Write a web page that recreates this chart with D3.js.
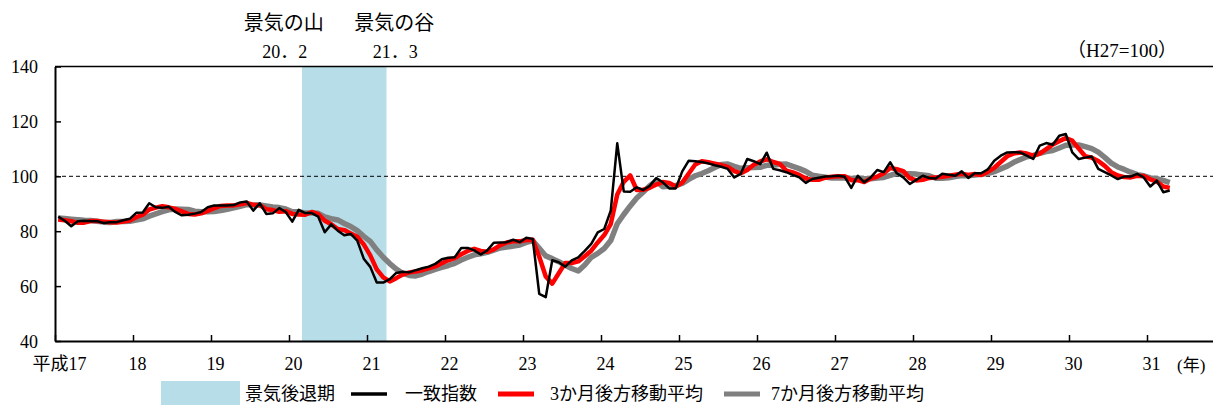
<!DOCTYPE html>
<html>
<head>
<meta charset="utf-8">
<script src="https://cdn.jsdelivr.net/npm/d3@7"></script>
<style>
  body { margin: 0; background: #fff; }
  svg { display: block; overflow: hidden; }
  text { font-family: "Liberation Serif", "Noto Sans CJK JP", serif; fill: #000; }
</style>
</head>
<body>
<div id="chart"></div>
<script>
// monthly values, 平成17年1月 .. 平成31年4月
var ci = [
  85.3, 83.8, 81.8, 83.6, 83.8, 83.6, 83.6, 83.0, 83.3, 83.3, 84.0, 84.5,
  86.7, 86.8, 90.2, 88.7, 88.5, 88.9, 87.0, 85.8, 86.0, 86.4, 87.0, 88.7,
  89.4, 89.4, 89.4, 89.5, 90.5, 90.8, 87.5, 90.2, 86.3, 86.5, 88.4, 87.0,
  83.5, 87.8, 86.6, 86.6, 85.3, 79.6, 82.5, 80.2, 78.5, 79.0, 76.6, 70.0,
  67.0, 61.3, 61.3, 62.5, 64.8, 65.2, 65.0, 65.8, 66.5, 67.1, 68.1, 69.8,
  70.3, 70.5, 73.9, 73.9, 73.0, 71.5, 73.0, 75.8, 75.9, 76.0, 76.9, 76.0,
  77.6, 77.2, 57.2, 56.0, 69.4, 68.7, 67.1, 69.4, 70.5, 72.8, 75.4, 79.6,
  80.8, 87.5, 112.0, 94.5, 94.4, 96.0, 95.0, 96.5, 99.4, 97.8, 95.6, 95.6,
  101.8, 105.7, 105.5, 105.2, 104.7, 104.0, 103.5, 102.7, 99.6, 100.9, 106.3, 105.5,
  104.4, 108.6, 102.7, 102.2, 101.5, 100.5, 99.6, 97.6, 99.0, 99.5, 99.9, 100.0,
  100.2, 99.8, 95.8, 100.2, 97.8, 99.6, 102.3, 101.5, 105.1, 101.1, 99.6, 97.2,
  98.7, 100.2, 99.4, 99.2, 100.9, 100.6, 100.2, 101.8, 99.4, 101.1, 101.1, 102.5,
  105.7, 107.5, 108.7, 108.8, 108.7, 107.5, 106.3, 111.2, 112.1, 111.5, 114.8, 115.4,
  108.7, 106.3, 106.8, 107.2, 102.7, 101.5, 100.3, 99.0, 99.9, 99.9, 100.9, 99.6,
  96.3, 98.4, 94.2, 94.8
];

var ma3 = [
  84.3, 84.0, 83.6, 83.1, 83.1, 83.7, 83.7, 83.4, 83.3, 83.2, 83.5, 83.9,
  85.1, 86.0, 87.9, 88.6, 89.1, 88.7, 88.1, 87.2, 86.3, 86.1, 86.5, 87.4,
  88.4, 89.2, 89.4, 89.4, 89.8, 90.3, 89.6, 89.5, 88.0, 87.7, 87.1, 87.3,
  86.3, 86.1, 86.0, 87.0, 86.2, 83.8, 82.5, 80.8, 80.4, 79.2, 78.0, 75.2,
  71.2, 66.1, 63.2, 61.7, 62.9, 64.2, 65.0, 65.3, 65.8, 66.5, 67.2, 68.3,
  69.4, 70.2, 71.6, 72.8, 73.6, 72.8, 72.5, 73.4, 74.9, 75.9, 76.3, 76.3,
  76.8, 76.9, 70.7, 63.5, 60.9, 64.7, 68.4, 68.4, 69.0, 70.9, 72.9, 75.9,
  78.6, 82.6, 93.4, 98.0, 100.3, 95.0, 95.1, 95.8, 97.0, 97.9, 97.6, 96.3,
  97.7, 101.0, 104.3, 105.5, 105.1, 104.6, 104.1, 103.4, 101.9, 101.1, 102.3, 104.2,
  105.4, 106.2, 105.2, 104.5, 102.1, 101.4, 100.5, 99.2, 98.7, 98.7, 99.5, 99.8,
  100.0, 100.0, 98.6, 98.6, 97.9, 99.2, 99.9, 101.1, 103.0, 102.6, 101.9, 99.3,
  98.5, 98.7, 99.4, 99.6, 99.8, 100.2, 100.6, 100.9, 100.5, 100.8, 100.5, 101.6,
  103.1, 105.2, 107.3, 108.3, 108.7, 108.3, 107.5, 108.3, 109.9, 111.6, 112.8, 113.9,
  113.0, 110.1, 107.3, 106.8, 105.6, 103.8, 101.5, 100.3, 99.7, 99.6, 100.2, 100.1,
  98.9, 98.1, 96.3, 95.8
];

var ma7 = [
  84.8, 84.6, 84.4, 84.2, 84.0, 83.9, 83.6, 83.3, 83.2, 83.5, 83.5, 83.6,
  84.1, 84.5, 85.5, 86.3, 87.1, 87.8, 88.1, 88.0, 87.9, 87.3, 87.1, 87.1,
  87.2, 87.5, 88.0, 88.5, 89.1, 89.7, 89.5, 89.6, 89.2, 88.8, 88.6, 88.1,
  87.1, 87.1, 86.6, 86.6, 86.5, 85.2, 84.6, 84.1, 82.8, 81.7, 80.2, 78.1,
  76.3, 73.2, 70.5, 68.2, 66.2, 64.6, 63.9, 63.7, 64.4, 65.3, 66.1, 66.8,
  67.5, 68.3, 69.5, 70.5, 71.4, 71.8, 72.3, 73.1, 73.9, 74.2, 74.6, 75.0,
  75.9, 76.5, 73.8, 71.0, 70.0, 68.9, 67.6, 66.4, 65.5, 67.7, 70.5, 71.9,
  73.7, 76.6, 82.7, 86.1, 89.2, 92.1, 94.3, 96.6, 98.3, 96.2, 96.4, 96.6,
  97.4, 98.9, 100.2, 101.0, 102.0, 103.2, 104.3, 104.5, 103.6, 102.9, 103.1, 103.2,
  103.3, 104.0, 104.0, 104.4, 104.5, 103.6, 102.8, 101.8, 100.4, 100.0, 99.7, 99.4,
  99.4, 99.4, 99.2, 99.3, 99.1, 99.1, 99.4, 99.6, 100.3, 101.1, 101.0, 100.9,
  100.8, 100.5, 100.2, 99.3, 99.3, 99.5, 99.9, 100.3, 100.2, 100.5, 100.7, 101.0,
  101.7, 102.7, 103.7, 105.1, 106.1, 107.1, 107.6, 108.4, 109.0, 109.4, 110.3, 111.3,
  111.4, 111.4, 110.8, 110.1, 108.8, 106.9, 104.8, 103.4, 102.5, 101.5, 100.6, 100.2,
  99.4, 99.1, 98.5, 97.7
];

var yearLabels = ["平成17", "18", "19", "20", "21", "22", "23", "24", "25",
                  "26", "27", "28", "29", "30", "31"];
var yTicks = [40, 60, 80, 100, 120, 140];

// 景気後退期 (month after the peak .. trough), month index from 平成17年1月
var recessionMonths = [38, 50];
var peakLabel = ["景気の山", "20．2"];
var troughLabel = ["景気の谷", "21．3"];

var width = 1213, height = 405;
var plotLeft = 55, plotTop = 66.5, plotBottom = 341;

var svg = d3.select("#chart")
            .append("svg")
            .attr("width", width)
            .attr("height", height);

// month bands run to the end of 平成31 (the right edge falls outside the picture)
var nMonths = yearLabels.length * 12;
var plotRight = plotLeft + nMonths * 6.5;
var x = d3.scaleBand().domain(d3.range(nMonths)).range([plotLeft, plotRight]).padding(0);
var xYear = d3.scaleLinear().domain([0, yearLabels.length]).range([plotLeft, plotRight]);
var y = d3.scaleLinear().domain([40, 140]).range([plotBottom, plotTop]);
var cx = function(i) { return x(i) + x.bandwidth() / 2; };

// recession shading
svg.append("rect")
   .attr("x", x(recessionMonths[0]))
   .attr("y", y(140))
   .attr("width", x(recessionMonths[1]) + x.bandwidth() - x(recessionMonths[0]))
   .attr("height", y(40) - y(140))
   .attr("fill", "#b7dde8");

// 100 reference line
svg.append("line")
   .attr("x1", plotLeft).attr("x2", width)
   .attr("y1", y(100)).attr("y2", y(100))
   .attr("stroke", "#000").attr("stroke-width", 1)
   .attr("stroke-dasharray", "4,3");

// top frame line
svg.append("line")
   .attr("x1", plotLeft).attr("x2", width)
   .attr("y1", y(140)).attr("y2", y(140))
   .attr("stroke", "#000").attr("stroke-width", 1.5);

// y axis
var yAxis = svg.append("g")
   .attr("transform", "translate(" + plotLeft + ",0)")
   .call(d3.axisLeft(y).tickValues(yTicks).tickSizeInner(-6).tickSizeOuter(0).tickPadding(17));
yAxis.select(".domain").attr("stroke-width", 2);
yAxis.selectAll(".tick line").attr("stroke-width", 1.5);
yAxis.selectAll("text").style("font-size", "18px").attr("dy", "0.35em");

// x axis
var xAxis = svg.append("g")
   .attr("transform", "translate(0," + plotBottom + ")")
   .call(d3.axisBottom(xYear)
           .tickValues(d3.range(yearLabels.length + 1))
           .tickFormat(function(d) { return yearLabels[d] || ""; })
           .tickSizeInner(-6).tickSizeOuter(0).tickPadding(16));
xAxis.select(".domain").attr("stroke-width", 2);
xAxis.selectAll(".tick line").attr("stroke-width", 1.5);
xAxis.selectAll("text").style("font-size", "18px").attr("dx", 4);

svg.append("text")
   .attr("x", 1177).attr("y", 371)
   .style("font-size", "17px")
   .text("(年)");

svg.append("text")
   .attr("x", 1122).attr("y", 57)
   .attr("text-anchor", "middle")
   .style("font-size", "19px")
   .text("（H27=100）");

// peak / trough labels
[[peakLabel, cx(recessionMonths[0] - 1) - 15], [troughLabel, cx(recessionMonths[1]) + 11]].forEach(function(d) {
  svg.append("text").attr("x", d[1]).attr("y", 30)
     .attr("text-anchor", "middle").style("font-size", "20px").text(d[0][0]);
  svg.append("text").attr("x", d[1] + 1).attr("y", 58)
     .attr("text-anchor", "middle").style("font-size", "18px").text(d[0][1]);
});

// lines
var line = d3.line()
             .x(function(d, i) { return cx(i); })
             .y(function(d) { return y(d); });

var series = [
  {values: ma7, color: "#808080", w: 5.5},
  {values: ma3, color: "#ff0000", w: 4.5},
  {values: ci, color: "#000000", w: 2.5}
];

svg.selectAll(".series")
   .data(series)
   .enter()
   .append("path")
   .attr("class", "series")
   .attr("d", function(d) { return line(d.values); })
   .attr("fill", "none")
   .attr("stroke", function(d) { return d.color; })
   .attr("stroke-width", function(d) { return d.w; })
   .attr("stroke-linejoin", "round");

// legend
var legend = svg.append("g");
legend.append("rect")
      .attr("x", 161).attr("y", 381).attr("width", 79).attr("height", 26)
      .attr("fill", "#b7dde8");
legend.append("text").attr("x", 245).attr("y", 400).style("font-size", "18px").text("景気後退期");

var legendLines = [
  {x: 351, color: "#000000", w: 3.5, label: "一致指数", lx: 405},
  {x: 498, color: "#ff0000", w: 5, label: "3か月後方移動平均", lx: 550},
  {x: 724, color: "#808080", w: 5, label: "7か月後方移動平均", lx: 771}
];
legendLines.forEach(function(d) {
  legend.append("line")
        .attr("x1", d.x).attr("x2", d.x + 36)
        .attr("y1", 394).attr("y2", 394)
        .attr("stroke", d.color).attr("stroke-width", d.w);
  legend.append("text").attr("x", d.lx).attr("y", 400).style("font-size", "18px").text(d.label);
});
</script>
</body>
</html>
